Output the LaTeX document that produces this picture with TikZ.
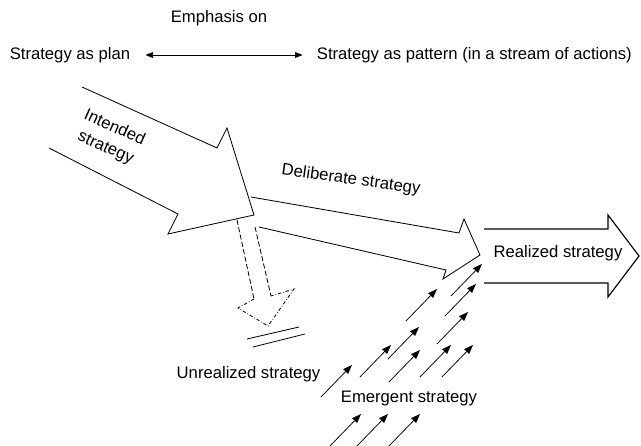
\documentclass[tikz,border=0pt]{standalone}
\usepackage{fontspec}
\setmainfont{Liberation Sans}
\usetikzlibrary{arrows.meta,positioning}

\tikzset{
	lbl/.style={font=\fontsize{10}{13}\selectfont, inner sep=0pt},
	outline/.style={line width=0.5pt, line join=miter},
	wide/.style={outline, line width=0.7pt},
	gone/.style={outline, dash pattern=on 3pt off 1.5pt},
	gonehead/.style={outline, dash pattern=on 2pt off 1.2pt on 0.4pt off 1.2pt},
	emerg/.style={line width=0.45pt, -{Triangle[length=5.5pt,width=4pt]}},
	both/.style={line width=0.45pt, {Triangle[length=4.5pt,width=3.5pt]}-{Triangle[length=4.5pt,width=3.5pt]}},
}

\begin{document}
\begin{tikzpicture}[x=0.6pt,y=-0.6pt]
	\useasboundingbox (0,0) rectangle (641,446);
	\node[lbl] (emph) at (219,18) {Emphasis on};
	\node[lbl] (plan) at (70,55) {Strategy as plan};
	\node[lbl, right=111.6pt of plan] (pattern) {Strategy as pattern (in a stream of actions)};
	\draw[both, shorten <=9pt, shorten >=8.4pt] (plan) -- (pattern);

	\draw[outline] (82,87) -- (217,148) -- (227,128) -- (254,215) -- (168,234) -- (178,214) -- (49,148);
	\node[lbl, rotate=-24, align=center] (intended) at (110,138) {Intended\\strategy};

	\draw[outline] (251,197) -- (459,233) -- (464,219) -- (480,255) -- (443,279) -- (446,270) -- (259,227);
	\node[lbl, rotate=-8] (deliberate) at (351,180) {Deliberate strategy};

	\draw[gone] (237,220) -- (254,299);
	\draw[gone] (255,227) -- (271,296);
	\draw[gonehead] (254,299) -- (238,308) -- (268,326) -- (294,289) -- (271,296);
	\draw[outline] (247,339) -- (299,327);
	\draw[outline] (253,347) -- (305,334);
	\node[lbl] (unrealized) at (248.5,374) {Unrealized strategy};

	\draw[wide] (484,229) -- (608,229) -- (608,215) -- (639,256) -- (608,297) -- (608,283) -- (484,283);
	\node[lbl] (realized) at (558,253) {Realized strategy};

	\foreach \x/\y [count=\i] in {406/321, 451/296, 445/316, 388/359, 437/344, 360/377, 389/382,
			420/377, 442/377, 321/397, 330/446, 357/446, 389/446} {
		\coordinate (t\i) at (\x,\y);
		\coordinate (h\i) at (\x+31,\y-32);
		\draw[emerg] (t\i) -- (h\i);
	}
	\node[lbl] (emergent) at (409,398) {Emergent strategy};
\end{tikzpicture}
\end{document}
